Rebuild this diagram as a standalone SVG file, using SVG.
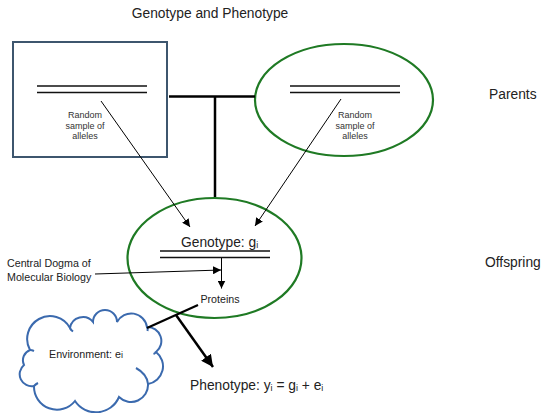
<svg xmlns="http://www.w3.org/2000/svg" width="543" height="413" viewBox="0 0 543 413">
<style>
text{font-family:"Liberation Sans",Arial,sans-serif;fill:#222}
.big{font-size:13.8px}
.sm{font-size:9px;fill:#333}
.mid{font-size:10.7px}
.dbl{stroke:#111;stroke-width:1.4}
.thin{stroke:#000;stroke-width:1;fill:none}
.thick{stroke:#000;stroke-width:2.5;fill:none}
.green{fill:none;stroke:#1f7a24;stroke-width:2.2}
</style>
<defs>
<marker id="ah" viewBox="0 0 10 10" refX="10" refY="5" markerWidth="8" markerHeight="8" markerUnits="userSpaceOnUse" orient="auto">
<path d="M0,0 L10,5 L0,10 Z" fill="#000"/>
</marker>
<marker id="ahb" viewBox="0 0 10 10" refX="10" refY="5" markerWidth="12" markerHeight="12" markerUnits="userSpaceOnUse" orient="auto">
<path d="M0,0 L10,5 L0,10 Z" fill="#000"/>
</marker>
</defs>
<text id="title" class="big" x="210" y="18" text-anchor="middle">Genotype and Phenotype</text>
<g id="parent1">
<rect x="13" y="42" width="154" height="115" fill="#fff" stroke="#3d566e" stroke-width="2"/>
<line class="dbl" x1="37" y1="86" x2="147" y2="86"/>
<line class="dbl" x1="37" y1="92.5" x2="147" y2="92.5"/>
<text class="sm" x="85" y="118" text-anchor="middle">Random</text>
<text class="sm" x="85" y="129" text-anchor="middle">sample of</text>
<text class="sm" x="85" y="139" text-anchor="middle">alleles</text>
</g>
<g id="parent2">
<ellipse class="green" cx="344" cy="100" rx="89" ry="56"/>
<line class="dbl" x1="290" y1="86" x2="400" y2="86"/>
<line class="dbl" x1="290" y1="92.5" x2="400" y2="92.5"/>
<text class="sm" x="355" y="118" text-anchor="middle">Random</text>
<text class="sm" x="355" y="129" text-anchor="middle">sample of</text>
<text class="sm" x="355" y="139" text-anchor="middle">alleles</text>
</g>
<g id="labels">
<text class="big" x="489" y="99">Parents</text>
<text class="big" x="485" y="267">Offspring</text>
</g>
<g id="offspring">
<ellipse class="green" cx="214.5" cy="258" rx="87" ry="60"/>
<text class="big" x="181" y="246.5">Genotype: g<tspan font-size="9" dy="1">i</tspan></text>
<line class="dbl" x1="160" y1="251" x2="270" y2="251"/>
<line class="dbl" x1="160" y1="257.5" x2="270" y2="257.5"/>
<text class="mid" x="220" y="303.3" text-anchor="middle">Proteins</text>
</g>
<g id="dogma">
<text class="mid" x="7" y="267">Central Dogma of</text>
<text class="mid" x="7" y="281">Molecular Biology</text>
</g>
<g id="environment">
<path d="M30,350 A20,20 0 0 1 70,328 A13,13 0 0 1 93,322 A12,12 0 0 1 117,322 A16,16 0 0 1 147,327 A14,14 0 0 1 156,352 A18,18 0 0 1 148,384 A17,17 0 0 1 119,397 A25,25 0 0 1 75,401 A23,23 0 0 1 34,386 A12,12 0 0 1 24,365 A11,11 0 0 1 30,350 Z" fill="#fff" stroke="#3b6aae" stroke-width="2"/>
<path d="M70,328 q1,2 3,3.5 M147,327 q1,2 0.5,4 M156,352 q-1,1.5 -2.5,2 M148,384 q-1,-10 -12,-16 M34,386 q2,-2 4,-3 M30,350 q2,0 4,1" fill="none" stroke="#3b6aae" stroke-width="2"/>
<text class="mid" x="49" y="358">Environment: e<tspan font-size="9">i</tspan></text>
</g>
<g id="phenotype">
<text class="big" x="190" y="390">Phenotype: y<tspan font-size="9" dy="1">i</tspan><tspan dy="-1"> = g</tspan><tspan font-size="9" dy="1">i</tspan><tspan dy="-1"> + e</tspan><tspan font-size="9" dy="1">i</tspan></text>
</g>
<g id="connectors">
<line class="thick" x1="169" y1="96.5" x2="255" y2="96.5"/>
<line class="thick" x1="215" y1="96.5" x2="215" y2="197"/>
<line class="thin" x1="101" y1="101" x2="190" y2="227" marker-end="url(#ah)"/>
<line class="thin" x1="341" y1="99" x2="255" y2="226" marker-end="url(#ah)"/>
<line class="thin" x1="221.5" y1="258" x2="221.5" y2="288.5" marker-end="url(#ah)"/>
<line class="thin" x1="95" y1="274" x2="221" y2="270" marker-end="url(#ah)"/>
<line x1="198" y1="305" x2="147" y2="328" stroke="#000" stroke-width="2.2"/>
<line x1="176" y1="315" x2="213" y2="367" stroke="#000" stroke-width="2.5" marker-end="url(#ahb)"/>
</g>
</svg>
